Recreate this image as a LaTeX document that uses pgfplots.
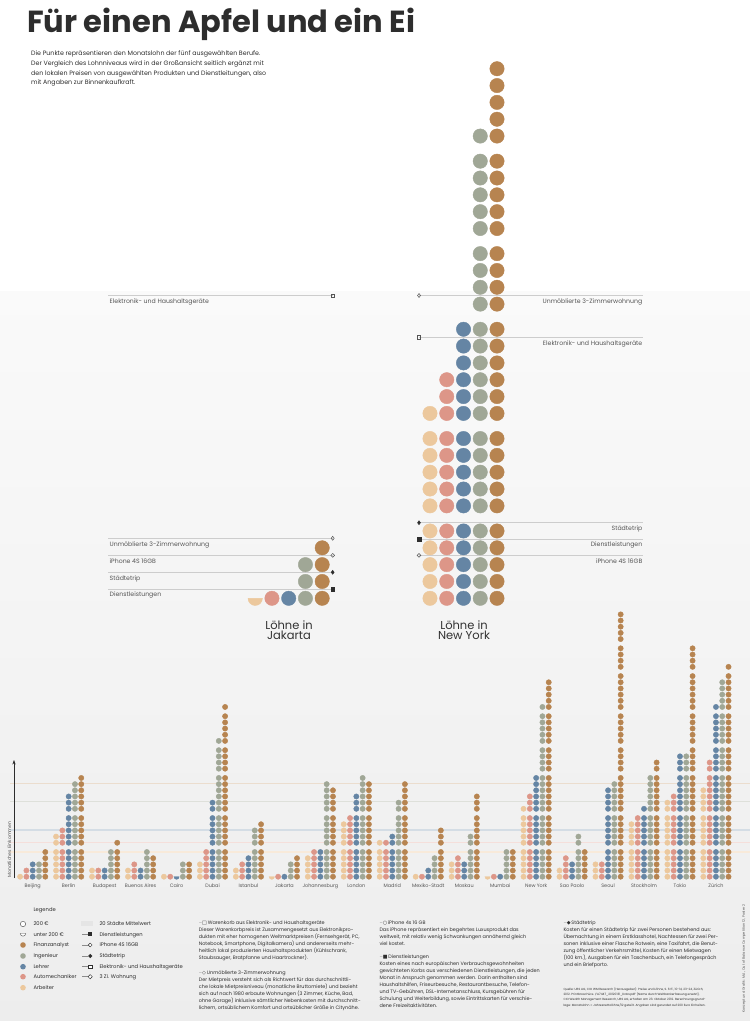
\documentclass[border=0pt]{standalone}
\usepackage{fontspec}
\setmainfont{Poppins}
\newfontfamily\sym{DejaVu Sans}
\usepackage{pgfplots}
\usepackage{pgfplotstable}
\pgfplotsset{compat=1.18}
\usetikzlibrary{arrows.meta}

\definecolor{cF}{RGB}{183,132,80}
\definecolor{cI}{RGB}{160,167,150}
\definecolor{cL}{RGB}{101,133,164}
\definecolor{cA}{RGB}{221,150,136}
\definecolor{cW}{RGB}{236,200,157}
\definecolor{txt}{RGB}{45,45,45}
\definecolor{lab}{RGB}{85,85,85}
\definecolor{rulec}{RGB}{205,205,205}

\newcommand\ft[1]{\fontsize{#1}{#1}\selectfont}

\pgfdeclareplotmark{halfdot}{%
  \pgfpathmoveto{\pgfqpoint{-\pgfplotmarksize}{0pt}}%
  \pgfpatharc{180}{360}{\pgfplotmarksize}%
  \pgfpathclose
  \pgfusepathqfillstroke}

% Monthly wages in dots of 200 EUR (0.5 = unter 200 EUR)
% W = Arbeiter, A = Automechaniker, L = Lehrer, I = Ingenieur, F = Finanzanalyst
\pgfplotstableread{
i W A L I F
0 1 2 3 3 5
1 7 8 13 15 16
2 2 2 2 5 6
3 2 3 2 5 4
4 1 1 0.5 3 3
5 3 5 12 21 26
6 2 3 4 8 9
7 0.5 1 1 3 4
8 4 5 5 15 14
9 9 10 13 16 15
10 6 6 7 12 15
11 1 1 2 4 8
12 3 4 3 7 13
13 0.5 1 1 5 5
14 11 13 16 26 30
15 2 4 3 7 5
16 3 3 14 15 40
17 9 10 11 16 18
18 12 13 19 19 35
19 14 18 26 30 32
}\smalldata

% Large view: Jakarta and New York
\pgfplotstableread{
x0 W A L I F
255.2 0.5 1 1 3 4
430.0 11 13 16 26 30
}\bigdata

% small pictogram columns: #1 column, #2 offset, #3 colour
\newcommand\smallcol[3]{%
  \pgfplotsinvokeforeach{1,...,40}{%
    \addplot[only marks, mark=*, mark size=2.65pt, color=#3]
      table[x expr={32.7+35.96*\thisrow{i}+6.3*(#2)},
            y expr={\thisrow{#1}>=##1 ? 876.7-6.17*(##1-1)-3.1*floor((##1-1)/5) : nan}] {\smalldata};
  }%
  \addplot[only marks, mark=halfdot, mark size=2.65pt, color=#3]
      table[x expr={32.7+35.96*\thisrow{i}+6.3*(#2)},
            y expr={\thisrow{#1}==0.5 ? 876.7 : nan}] {\smalldata};
}
\newcommand\bigcol[3]{%
  \pgfplotsinvokeforeach{1,...,30}{%
    \addplot[only marks, mark=*, mark size=7.2pt, color=#3]
      table[x expr={\thisrow{x0}+16.75*(#2)},
            y expr={\thisrow{#1}>=##1 ? 598.3-16.83*(##1-1)-8.3*floor((##1-1)/5) : nan}] {\bigdata};
  }%
  \addplot[only marks, mark=halfdot, mark size=7.2pt, color=#3]
      table[x expr={\thisrow{x0}+16.75*(#2)},
            y expr={\thisrow{#1}==0.5 ? 598.3 : nan}] {\bigdata};
}

\begin{document}
\begin{tikzpicture}[x=1pt,y=1pt]
\useasboundingbox (0,0) rectangle (750,1021);
\fill[white] (0,0) rectangle (750,1021);
\shade[top color=black!2, bottom color=black!7] (0,0) rectangle (750,729);

\begin{axis}[at={(0pt,0pt)}, anchor=south west, scale only axis,
  width=750pt, height=1021pt, xmin=0, xmax=750, ymin=0, ymax=1021,
  y dir=reverse, hide axis, clip=false]

% 20 Staedte Mittelwert
\addplot[cF!28, line width=1.3pt] coordinates {(10,783.7)(750,783.7)};
\addplot[cI!35, line width=1.3pt] coordinates {(10,801.7)(750,801.7)};
\addplot[cL!28, line width=1.3pt] coordinates {(10,830)(750,830)};
\addplot[cA!30, line width=1.3pt] coordinates {(10,842.7)(750,842.7)};
\addplot[cW!38, line width=1.3pt] coordinates {(10,852)(750,852)};

% y axis arrow
\addplot[txt, line width=0.45pt, -{Stealth[length=4.5pt,width=3.2pt]}] coordinates {(14,878)(14,760)};

% price lines Jakarta
\addplot[rulec, line width=0.7pt] coordinates {(108,295.5)(332.7,295.5)};
\addplot[rulec, line width=0.7pt] coordinates {(108,538.3)(332.7,538.3)};
\addplot[rulec, line width=0.7pt] coordinates {(108,555.3)(332.7,555.3)};
\addplot[rulec, line width=0.7pt] coordinates {(108,572.3)(332.7,572.3)};
\addplot[rulec, line width=0.7pt] coordinates {(108,589)(332.7,589)};
% price lines New York
\addplot[rulec, line width=0.7pt] coordinates {(419,295.5)(643,295.5)};
\addplot[rulec, line width=0.7pt] coordinates {(419,337.3)(643,337.3)};
\addplot[rulec, line width=0.7pt] coordinates {(419,522.7)(643,522.7)};
\addplot[rulec, line width=0.7pt] coordinates {(419,539)(643,539)};
\addplot[rulec, line width=0.7pt] coordinates {(419,555.3)(643,555.3)};

% markers
\addplot[only marks, mark=square, mark size=1.7pt, lab, mark options={fill=white,line width=0.5pt}] coordinates {(332.7,295.5)(419,337.3)};
\addplot[only marks, mark=diamond, mark size=2pt, lab, mark options={fill=white,line width=0.5pt}] coordinates {(332.7,538.3)(419,295.5)};
\addplot[only marks, mark=o, mark size=1.9pt, lab, mark options={fill=white,line width=0.5pt}] coordinates {(332.7,555.3)(419,555.3)};
\addplot[only marks, mark=diamond*, mark size=2pt, txt] coordinates {(332.7,572.3)(419,522.7)};
\addplot[only marks, mark=square*, mark size=1.7pt, txt] coordinates {(332.7,589)(419,539)};

% small multiples
\smallcol{W}{-2}{cW}
\smallcol{A}{-1}{cA}
\smallcol{L}{0}{cL}
\smallcol{I}{1}{cI}
\smallcol{F}{2}{cF}

% large view
\bigcol{W}{0}{cW}
\bigcol{A}{1}{cA}
\bigcol{L}{2}{cL}
\bigcol{I}{3}{cI}
\bigcol{F}{4}{cF}
\end{axis}

% legend symbols (normal coordinates)
\draw[lab, line width=0.45pt, fill=white] (23,1021-924) circle (2.7);
\draw[lab, line width=0.45pt, fill=white] (20.3,1021-933.5) arc[start angle=180, end angle=360, radius=2.7] -- cycle;
\fill[cF] (23,1021-945) circle (2.8);
\fill[cI] (23,1021-956) circle (2.8);
\fill[cL] (23,1021-966.7) circle (2.8);
\fill[cA] (23,1021-976.7) circle (2.8);
\fill[cW] (23,1021-987.7) circle (2.8);
\fill[black!10] (81,1021-926.5) rectangle (93,1021-921.5);
\foreach \yy in {934.3,945,956,966.7,976.7} \draw[black!45, line width=0.4pt] (82,1021-\yy) -- (87.5,1021-\yy);
\fill[txt] (88.4,1021-936.1) rectangle (92,1021-932.5);
\draw[txt, line width=0.45pt, fill=white] (90.2,1021-945) circle (1.9);
\fill[txt] (90.2,1021-953.8) -- (92.4,1021-956) -- (90.2,1021-958.2) -- (88,1021-956) -- cycle;
\draw[txt, line width=0.45pt, fill=white] (88.5,1021-968.4) rectangle (91.9,1021-965);
\draw[txt, line width=0.45pt, fill=white] (90.2,1021-974.6) -- (92.3,1021-976.7) -- (90.2,1021-978.8) -- (88.1,1021-976.7) -- cycle;

\begin{scope}[y=-1pt, yshift=1021pt, every node/.style={inner sep=0pt, text=txt}]
% title and intro
\node[anchor=base west, font=\bfseries\ft{30.5}] at (27,33) {Für einen Apfel und ein Ei};
\node[anchor=base west, font=\ft{6.3}] at (31,55.5) {Die Punkte repräsentieren den Monatslohn der fünf ausgewählten Berufe.};
\node[anchor=base west, font=\ft{6.3}] at (31,65.3) {Der Vergleich des Lohnniveaus wird in der Großansicht seitlich ergänzt mit};
\node[anchor=base west, font=\ft{6.3}] at (31,75.1) {den lokalen Preisen von ausgewählten Produkten und Dienstleitungen, also};
\node[anchor=base west, font=\ft{6.3}] at (31,84.9) {mit Angaben zur Binnenkaufkraft.};

% labels Jakarta
\begin{scope}[every node/.append style={text=lab, font=\ft{6.2}}]
\node[anchor=base west] at (109.5,303.5) {Elektronik- und Haushaltsgeräte};
\node[anchor=base west] at (109.5,546.5) {Unmöblierte 3-Zimmerwohnung};
\node[anchor=base west] at (109.5,563.5) {iPhone 4S 16GB};
\node[anchor=base west] at (109.5,580.3) {Städtetrip};
\node[anchor=base west] at (109.5,597) {Dienstleistungen};
% labels New York
\node[anchor=base east] at (642.5,304) {Unmöblierte 3-Zimmerwohnung};
\node[anchor=base east] at (642.5,345.3) {Elektronik- und Haushaltsgeräte};
\node[anchor=base east] at (642.5,530.3) {Städtetrip};
\node[anchor=base east] at (642.5,547) {Dienstleistungen};
\node[anchor=base east] at (642.5,563.5) {iPhone 4S 16GB};
\end{scope}

\node[font=\ft{11.5}, text=black!80, align=center] at (289,630) {Löhne in\\[-1.5pt]Jakarta};
\node[font=\ft{11.5}, text=black!80, align=center] at (464,630) {Löhne in\\[-1.5pt]New York};

% y axis label
\node[rotate=90, anchor=west, font=\ft{4.6}, text=lab] at (9.5,878) {Monatliches Einkommen};

% city labels
\foreach \c [count=\k from 0] in {Beijing,Berlin,Budapest,Buenos Aires,Cairo,Dubai,Istanbul,Jakarta,Johannesburg,London,Madrid,Mexiko-Stadt,Moskau,Mumbai,New York,Sao Paolo,Seoul,Stockholm,Tokio,Zürich}
  \node[anchor=base, font=\ft{4.9}, text=lab] at ({32.7+35.96*\k},888) {\c};

% legend texts
\begin{scope}[every node/.append style={anchor=base west, font=\ft{5.2}}]
\node at (33.3,911.5) {Legende};
\node at (33.3,926) {200 €};
\node at (33.3,936.3) {unter 200 €};
\node at (33.3,947) {Finanzanalyst};
\node at (33.3,958) {Ingenieur};
\node at (33.3,968.7) {Lehrer};
\node at (33.3,978.7) {Automechaniker};
\node at (33.3,989.7) {Arbeiter};
\node at (99.3,926) {20 Städte Mittelwert};
\node at (99.3,936.3) {Dienstleistungen};
\node at (99.3,947) {iPhone 4S 16GB};
\node at (99.3,958) {Städtetrip};
\node at (99.3,968.7) {Elektronik- und Haushaltsgeräte};
\node at (99.3,978.7) {3 Zi. Wohnung};
\end{scope}

\newcommand\hd[1]{\textcolor{black!45}{–}{\sym\ft{5}#1}\,}
\begin{scope}[every node/.append style={anchor=north west, align=left, font=\fontsize{4.9}{7}\selectfont}]
\node at (198.7,920.5) {\hd{□}Warenkorb aus Elektronik- und Haushaltsgeräte\\
Dieser Warenkorbpreis ist Zusammengesetzt aus Elektronikpro-\\
dukten mit eher homogenen Weltmarktpreisen (Fernsehgerät, PC,\\
Notebook, Smartphone, Digitalkamera) und andererseits mehr-\\
heitlich lokal produzierten Haushaltsprodukten (Kühlschrank,\\
Staubsauger, Bratpfanne und Haartrockner).};
\node at (198.7,970.5) {\hd{◇}Unmöblierte 3-Zimmerwohnung\\
Der Mietpreis versteht sich als Richtwert für das durchschnittli-\\
che lokale Mietpreisniveau (monatliche Bruttomiete) und bezieht\\
sich auf nach 1980 erbaute Wohnungen (3 Zimmer, Küche, Bad,\\
ohne Garage) inklusive sämtlicher Nebenkosten mit durchschnitt-\\
lichem, ortsüblichem Komfort und ortsüblicher Größe in Citynähe.};
\node at (379.3,920.5) {\hd{○}iPhone 4s 16 GB\\
Das iPhone repräsentiert ein begehrtes Luxusprodukt das\\
weltweit, mit relativ wenig Schwankungen annähernd gleich\\
viel kostet.};
\node at (379.3,954.2) {\hd{■}Dienstleistungen\\
Kosten eines nach europäischen Verbrauchsgewohnheiten\\
gewichteten Korbs aus verschiedenen Dienstleistungen, die jeden\\
Monat in Anspruch genommen werden. Darin enthalten sind\\
Haushaltshilfen, Friseurbesuche, Restaurantbesuche, Telefon-\\
und TV-Gebühren, DSL-Internetanschluss, Kursgebühren für\\
Schulung und Weiterbildung, sowie Eintrittskarten für verschie-\\
dene Freizeitaktivitäten.};
\node at (563.3,920.5) {\hd{◆}Städtetrip\\
Kosten für einen Städtetrip für zwei Personen bestehend aus:\\
Übernachtung in einem Erstklasshotel, Nachtessen für zwei Per-\\
sonen inklusive einer Flasche Rotwein, eine Taxifahrt, die Benut-\\
zung öffentlicher Verkehrsmittel, Kosten für einen Mietwagen\\
(100 km.), Ausgaben für ein Taschenbuch, ein Telefongespräch\\
und ein Briefporto.};
\end{scope}
\node[anchor=north west, align=left, font=\fontsize{3}{5.4}\selectfont] at (563.3,987) {Quelle: UBS AG, CIO WM Research (Herausgeber): Preise und Löhne, S. 6 ff., 10-14, 23-24, Zürich,\\
2012. Printbroschüre. ‚FA7447\_20120131\_Data.pdf‘ (Name durch Weltbankerfassung ersetzt),\\
CIO Wealth Management Research, UBS AG, erhalten am 23. Oktober 2012. Berechnungsgrund-\\
lage: Monatslohn = Jahresnettolöhne/12 geteilt. Angaben sind gerundet auf 200 Euro Einheiten.};
\node[rotate=90, anchor=west, font=\ft{3.4}, text=lab] at (744,1013) {Konzept und Grafik: M.A., Out of Balance Competition 12, Poster 2};
\end{scope}
\end{tikzpicture}
\end{document}
